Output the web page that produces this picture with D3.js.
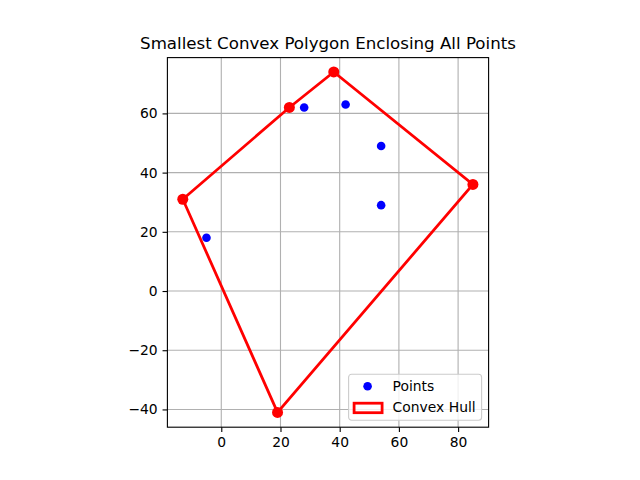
<!DOCTYPE html>
<html>
<head>
<meta charset="utf-8">
<script src="https://cdn.jsdelivr.net/npm/d3@7"></script>
<style>
  body { margin: 0; background: #fff; }
  svg { font-family: "DejaVu Sans", sans-serif; }
</style>
</head>
<body>
<svg id="chart" width="640" height="480"></svg>
<script>
// points inside the hull
const pointX = [28, 42, 54, 54, -5];
const pointY = [62, 63, 49, 29, 18];
// hull vertices, in order
const hullX = [-13, 23, 38, 85, 19];
const hullY = [31, 62, 74, 36, -41];
const xTicks = [0, 20, 40, 60, 80];
const yTicks = [-40, -20, 0, 20, 40, 60];
const xDomain = [-18.2, 90.3];
const yDomain = [-46, 78.85];

const svg = d3.select("#chart");
const pt = 100 / 72; // figure is 100 dpi

// equal aspect, axes box shrunk horizontally like matplotlib
const plotTop = 57.6, plotBottom = 427.2;
const plotH = plotBottom - plotTop;
const unit = plotH / (yDomain[1] - yDomain[0]);
const plotW = unit * (xDomain[1] - xDomain[0]);
const plotLeft = 328 - plotW / 2;
const plotRight = plotLeft + plotW;

const x = d3.scaleLinear().domain(xDomain).range([plotLeft, plotRight]);
const y = d3.scaleLinear().domain(yDomain).range([plotBottom, plotTop]);

const fmt = d3.format("d");
const fs = 10 * pt;

// grid
const grid = svg.append("g").attr("stroke", "#b0b0b0").attr("stroke-width", 0.8 * pt);
grid.selectAll(".gx").data(xTicks).join("line")
    .attr("x1", d => x(d)).attr("x2", d => x(d))
    .attr("y1", plotTop).attr("y2", plotBottom);
grid.selectAll(".gy").data(yTicks).join("line")
    .attr("y1", d => y(d)).attr("y2", d => y(d))
    .attr("x1", plotLeft).attr("x2", plotRight);

// hull
const hull = hullX.map((v, i) => [x(v), y(hullY[i])]);
svg.append("path")
    .attr("d", "M" + hull.join("L") + "Z")
    .attr("fill", "none")
    .attr("stroke", "red")
    .attr("stroke-width", 2 * pt)
    .attr("stroke-linejoin", "miter");

svg.append("g").selectAll("circle")
    .data(hullX)
    .join("circle")
    .attr("cx", d => x(d))
    .attr("cy", (d, i) => y(hullY[i]))
    .attr("r", 5.5)
    .attr("fill", "red");

svg.append("g").selectAll("circle")
    .data(pointX)
    .join("circle")
    .attr("cx", d => x(d))
    .attr("cy", (d, i) => y(pointY[i]))
    .attr("r", 4.3)
    .attr("fill", "blue");

// axes
const xAxis = svg.append("g")
    .attr("transform", `translate(0,${plotBottom})`)
    .call(d3.axisBottom(x).tickValues(xTicks).tickFormat(fmt).tickSize(3.5 * pt).tickPadding(3.5 * pt));
const yAxis = svg.append("g")
    .attr("transform", `translate(${plotLeft},0)`)
    .call(d3.axisLeft(y).tickValues(yTicks).tickFormat(fmt).tickSize(3.5 * pt).tickPadding(3.5 * pt));
[xAxis, yAxis].forEach(a => {
    a.select(".domain").remove();
    a.selectAll("line").attr("stroke", "#000").attr("stroke-width", 0.8 * pt);
    a.selectAll("text").attr("font-size", fs + "px").attr("fill", "#000")
        .attr("font-family", "DejaVu Sans");
});

// frame
svg.append("rect")
    .attr("x", plotLeft).attr("y", plotTop)
    .attr("width", plotW).attr("height", plotH)
    .attr("fill", "none").attr("stroke", "#000").attr("stroke-width", 0.8 * pt);

// title
svg.append("text")
    .attr("x", (plotLeft + plotRight) / 2).attr("y", plotTop - 6 * pt)
    .attr("text-anchor", "middle")
    .attr("font-size", 12 * pt + "px")
    .text("Smallest Convex Polygon Enclosing All Points");

// legend
const lg = svg.append("g").attr("transform", `translate(${plotRight - 140},${plotBottom - 53})`);
lg.append("rect")
    .attr("width", 133).attr("height", 46).attr("rx", 3)
    .attr("fill", "#fff").attr("fill-opacity", 0.8)
    .attr("stroke", "#cccccc").attr("stroke-width", 0.8 * pt);
lg.append("circle").attr("cx", 19).attr("cy", 12).attr("r", 4.3).attr("fill", "blue");
lg.append("text").attr("x", 44).attr("y", 16.8).attr("font-size", fs + "px").text("Points");
lg.append("rect").attr("x", 5.5).attr("y", 29).attr("width", 28).attr("height", 9.5)
    .attr("fill", "none").attr("stroke", "red").attr("stroke-width", 2 * pt);
lg.append("text").attr("x", 44).attr("y", 38.3).attr("font-size", fs + "px").text("Convex Hull");
</script>
</body>
</html>
